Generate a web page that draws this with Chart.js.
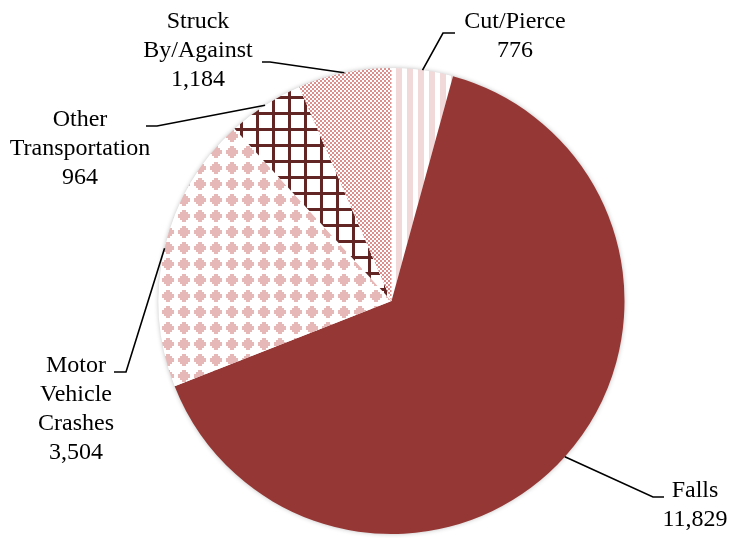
<!DOCTYPE html>
<html>
<head>
<meta charset="utf-8">
<script src="https://cdn.jsdelivr.net/npm/chart.js@4"></script>
<style>
  html, body { margin: 0; padding: 0; background: #fff; }
  #wrap { width: 734px; height: 538px; }
</style>
</head>
<body>
<div id="wrap"><canvas id="injuryPie" width="734" height="538"></canvas></div>
<script>
const categories = ['Cut/Pierce', 'Falls', 'Motor Vehicle Crashes', 'Other Transportation', 'Struck By/Against'];
const injuries = [776, 11829, 3504, 964, 1184];
const labelLines = [
  ['Cut/Pierce'],
  ['Falls'],
  ['Motor', 'Vehicle', 'Crashes'],
  ['Other', 'Transportation'],
  ['Struck', 'By/Against']
];

// small tiles for the pattern fills
function tile(w, h, paint) {
  const c = document.createElement('canvas');
  c.width = w; c.height = h;
  const g = c.getContext('2d');
  g.fillStyle = '#ffffff';
  g.fillRect(0, 0, w, h);
  paint(g);
  return document.createElement('canvas').getContext('2d').createPattern(c, 'repeat');
}

const stripes = tile(11, 11, g => {
  g.fillStyle = '#f2d9d9';
  g.fillRect(0, 0, 6, 11);
});

// stepped diamond, built from 2px rows
const diamonds = tile(16, 16, g => {
  g.fillStyle = '#e6b8b7';
  g.fillRect(6, 2, 4, 2);
  g.fillRect(4, 4, 8, 2);
  g.fillRect(2, 6, 12, 4);
  g.fillRect(4, 10, 8, 2);
  g.fillRect(6, 12, 4, 2);
});

const grid = tile(16, 16, g => {
  g.fillStyle = '#632523';
  g.fillRect(0, 0, 3, 16);
  g.fillRect(0, 0, 16, 3);
});

const dots = tile(4, 4, g => {
  g.fillStyle = '#dc8e8d';
  g.fillRect(0, 0, 2, 2);
  g.fillRect(2, 2, 2, 2);
});

// where each label sits and how its leader line bends
const labelLayout = [
  { x: 515, y: 28, path: [[443, 33], [455, 33]] },
  { x: 695, y: 497, path: [[653, 497], [664, 497]] },
  { x: 76, y: 372, path: [[126, 372], [114, 372]] },
  { x: 80, y: 126, path: [[157, 126], [146, 126]] },
  { x: 198, y: 28, path: [[270, 62], [262, 62]] }
];

const pieShadow = {
  id: 'pieShadow',
  beforeDatasetsDraw(chart) {
    const arc = chart.getDatasetMeta(0).data[0];
    if (!arc) return;
    const ctx = chart.ctx;
    ctx.save();
    ctx.shadowColor = 'rgba(0,0,0,0.3)';
    ctx.shadowBlur = 5;
    ctx.fillStyle = '#ffffff';
    ctx.beginPath();
    ctx.arc(arc.x, arc.y, arc.outerRadius - 0.5, 0, Math.PI * 2);
    ctx.fill();
    ctx.restore();
  }
};

const leaderLabels = {
  id: 'leaderLabels',
  afterDatasetsDraw(chart) {
    const ctx = chart.ctx;
    const arcs = chart.getDatasetMeta(0).data;
    ctx.save();
    ctx.font = '24px "Liberation Serif", "Times New Roman", serif';
    ctx.textAlign = 'center';
    ctx.textBaseline = 'alphabetic';
    ctx.fillStyle = '#000';
    ctx.strokeStyle = '#000';
    ctx.lineWidth = 1.6;
    arcs.forEach((arc, i) => {
      const lay = labelLayout[i];
      const mid = (arc.startAngle + arc.endAngle) / 2;
      const ax = arc.x + Math.cos(mid) * arc.outerRadius;
      const ay = arc.y + Math.sin(mid) * arc.outerRadius;
      ctx.beginPath();
      ctx.moveTo(ax, ay);
      lay.path.forEach(p => ctx.lineTo(p[0], p[1]));
      ctx.stroke();
      const lines = labelLines[i].concat([injuries[i].toLocaleString('en-US')]);
      lines.forEach((t, k) => ctx.fillText(t, lay.x, lay.y + k * 29));
    });
    ctx.restore();
  }
};

new Chart(document.getElementById('injuryPie'), {
  type: 'pie',
  data: {
    labels: categories,
    datasets: [{
      data: injuries,
      backgroundColor: [stripes, '#953735', diamonds, grid, dots],
      borderWidth: 0,
      hoverOffset: 0
    }]
  },
  options: {
    responsive: false,
    animation: false,
    layout: { padding: { top: 68, bottom: 4, left: 49, right: 0 } },
    plugins: {
      legend: { display: false },
      tooltip: { enabled: false }
    }
  },
  plugins: [pieShadow, leaderLabels]
});
</script>
</body>
</html>
